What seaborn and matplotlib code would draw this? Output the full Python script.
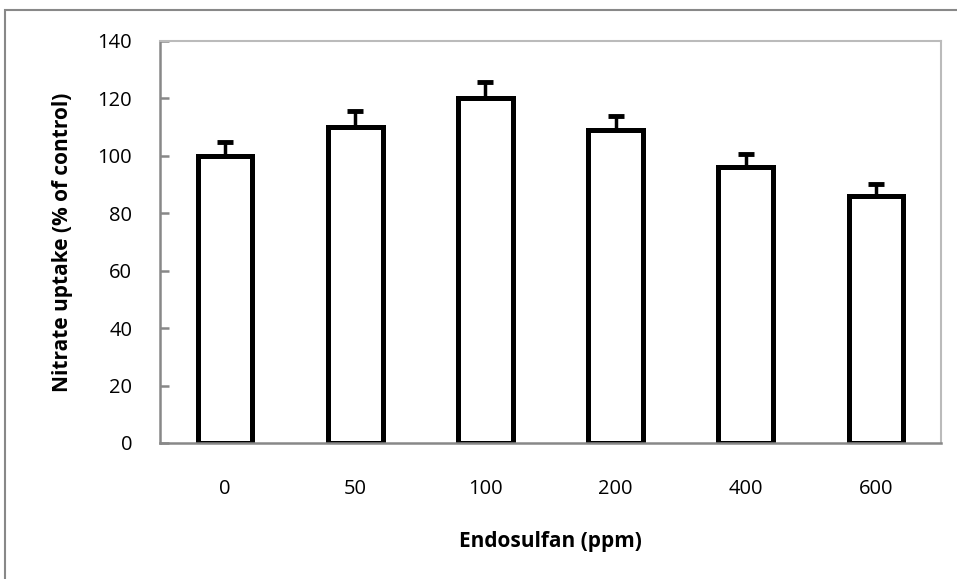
import matplotlib
matplotlib.use("Agg")
import matplotlib.pyplot as plt
import seaborn as sns
import pandas as pd
from matplotlib.patches import Rectangle

doses = ["0", "50", "100", "200", "400", "600"]
uptake = [100, 110, 120, 109, 96, 86]
errors = [5, 5.5, 5.6, 4.8, 4.8, 4.1]
y_ticks = [0, 20, 40, 60, 80, 100, 120, 140]

sns.set_theme(style="white")
plt.rcParams['font.family'] = ['Open Sans', 'DejaVu Sans']

df = pd.DataFrame({"dose": doses, "uptake": uptake})

fig = plt.figure(figsize=(9.57, 5.79), dpi=100)
ax = fig.add_axes([160/957, 1-443/579, 781/957, 402/579])

sns.barplot(data=df, x="dose", y="uptake", order=doses, ax=ax,
            color="white", edgecolor="black", linewidth=3.6, width=0.42,
            errorbar=None, saturation=1)
ax.errorbar(range(len(doses)), uptake, yerr=[[0]*len(errors), errors],
            fmt="none", ecolor="black", elinewidth=2.5, capsize=5.5, capthick=3.5)

ax.set_xlim(-0.5, 5.5)
ax.set_ylim(0, 140)
ax.set_yticks(y_ticks)
ax.tick_params(axis="y", which="both", left=True, direction="in", length=6.5, width=1.8,
               color="#888888", labelsize=14.5, pad=20)
ax.tick_params(axis="x", bottom=False, labelsize=14.5, pad=20)
for lab in ax.get_xticklabels() + ax.get_yticklabels():
    lab.set_color("black")

for s in ["left", "bottom"]:
    ax.spines[s].set_color("#888888")
    ax.spines[s].set_linewidth(1.8)
for s in ["top", "right"]:
    ax.spines[s].set_color("#bbbbbb")
    ax.spines[s].set_linewidth(1.5)

ax.set_xlabel("Endosulfan (ppm)", fontsize=15, fontweight="bold", color="black")
ax.set_ylabel("Nitrate uptake (% of control)", fontsize=15, fontweight="bold", color="black")
ax.xaxis.set_label_coords(0.5, (443 - 541) / 402)
ax.xaxis.label.set_verticalalignment("center")
ax.yaxis.set_label_coords((63 - 160) / 781, 0.5)
ax.yaxis.label.set_verticalalignment("center")

frame = Rectangle((5/957, -0.1), 1.1, 1 - 10/579 + 0.1, transform=fig.transFigure,
                  fill=False, edgecolor="#888888", linewidth=1.5)
fig.patches.append(frame)

fig.savefig("out.png", dpi=100)
